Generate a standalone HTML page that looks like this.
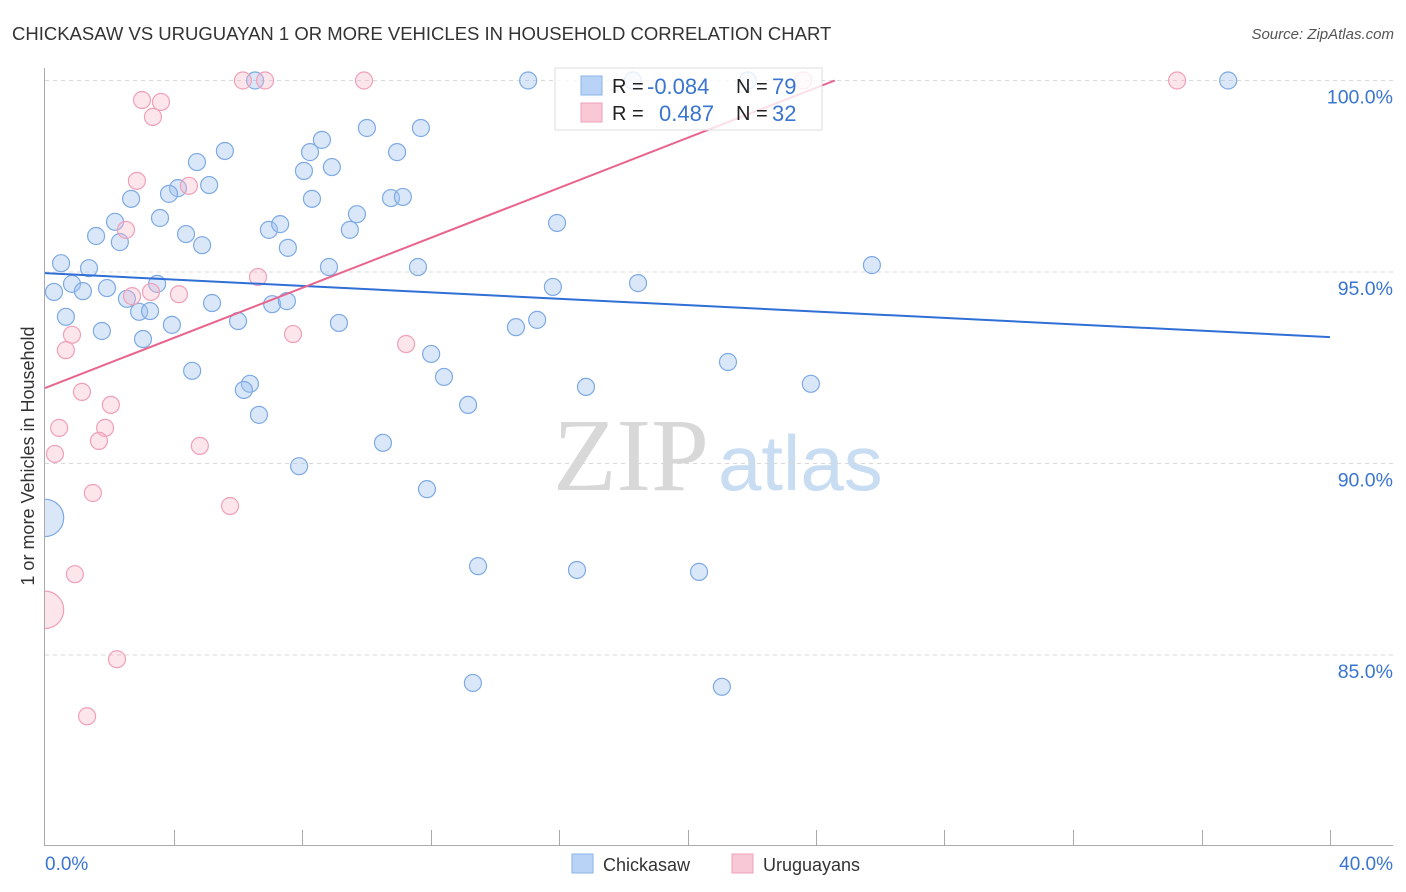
<!DOCTYPE html>
<html><head><meta charset="utf-8"><style>
body{margin:0;background:#fff;font-family:"Liberation Sans",sans-serif;}
#wrap{position:relative;width:1406px;height:892px;overflow:hidden;}
</style></head><body>
<div id="wrap">
<svg id="svg" width="1406" height="892" xmlns="http://www.w3.org/2000/svg">
<text x="12" y="40" font-size="18.5" fill="#333">CHICKASAW VS URUGUAYAN 1 OR MORE VEHICLES IN HOUSEHOLD CORRELATION CHART</text>
<text x="1394" y="39" font-size="15" fill="#555" font-style="italic" text-anchor="end">Source: ZipAtlas.com</text>
<text transform="translate(34,456) rotate(-90)" font-size="18" fill="#333" text-anchor="middle">1 or more Vehicles in Household</text>
<g>
<text x="553" y="490" font-size="104" font-family="Liberation Serif,serif" fill="#d8d8d8">ZIP</text>
<text x="718" y="490" font-size="78" fill="#c8dcf2">atlas</text>
</g>
<g id="grid"></g>
<g id="axes"></g>
<defs><clipPath id="plotclip"><rect x="45" y="60" width="1360" height="785"/></clipPath></defs>
<g id="pts" clip-path="url(#plotclip)"></g>
<g id="lines"></g>
<g>
<rect x="555" y="68" width="267" height="62" fill="rgba(255,255,255,0.8)" stroke="#ddd"/>
<rect x="581" y="76" width="21" height="19" fill="#b8d3f5" stroke="#8ab4e8"/>
<text x="612" y="93" font-size="20" fill="#222">R =</text>
<text x="647" y="94" font-size="22" fill="#3a75d0">-0.084</text>
<text x="736" y="93" font-size="20" fill="#222">N =</text>
<text x="772" y="94" font-size="22" fill="#3a75d0">79</text>
<rect x="581" y="103" width="21" height="19" fill="#f9c8d6" stroke="#f0a0b8"/>
<text x="612" y="120" font-size="20" fill="#222">R =</text>
<text x="659" y="121" font-size="22" fill="#3a75d0">0.487</text>
<text x="736" y="120" font-size="20" fill="#222">N =</text>
<text x="772" y="121" font-size="22" fill="#3a75d0">32</text>
</g>
<g>
<rect x="572" y="854" width="21" height="19" fill="#b8d3f5" stroke="#8ab4e8"/>
<text x="603" y="871" font-size="18" fill="#333">Chickasaw</text>
<rect x="732" y="854" width="21" height="19" fill="#f9c8d6" stroke="#f0a0b8"/>
<text x="763" y="871" font-size="18" fill="#333">Uruguayans</text>
</g>
</svg>
</div>
<script>
const yTicks=[100,95,90,85];
const yTickLabels=["100.0%","95.0%","90.0%","85.0%"];
const xLabels=["0.0%","40.0%"];
const blueX=[15.04,18.30,21.88,36.83,6.54,8.62,10.02,11.70,5.60,4.73,8.25,10.96,8.93,8.06,4.14,5.11,3.86,10.77,11.14,8.31,2.68,2.18,3.58,4.39,4.89,1.59,2.33,6.97,7.32,7.56,9.71,9.49,15.94,0.50,1.37,8.84,11.61,25.74,0.84,0.28,1.18,1.93,3.49,15.81,18.46,2.55,5.20,7.07,7.53,2.93,3.27,0.65,3.95,6.01,9.15,14.66,15.32,1.77,3.05,12.02,4.58,12.42,21.26,6.38,6.19,16.84,23.84,13.17,6.66,10.52,7.91,11.89,13.48,16.56,20.36,13.32,21.07,0];
const blueY=[100,100,100,100,100,98.45,98.76,98.76,98.16,97.87,98.13,98.13,97.74,97.64,97.19,97.27,97.04,96.93,96.96,96.91,96.91,96.31,96.41,95.99,95.70,95.94,95.78,96.10,96.25,95.63,96.51,96.10,96.28,95.23,95.10,95.13,95.13,95.18,94.69,94.48,94.50,94.58,94.69,94.61,94.71,94.30,94.19,94.16,94.24,93.96,93.98,93.83,93.62,93.72,93.67,93.56,93.75,93.46,93.25,92.86,92.42,92.26,92.65,92.08,91.92,92.00,92.08,91.53,91.27,90.54,89.93,89.33,87.32,87.22,87.17,84.27,84.17,88.58];
const blueSize=[1,1,1,1,1,1,1,1,1,1,1,1,1,1,1,1,1,1,1,1,1,1,1,1,1,1,1,1,1,1,1,1,1,1,1,1,1,1,1,1,1,1,1,1,1,1,1,1,1,1,1,1,1,1,1,1,1,1,1,1,1,1,1,1,1,1,1,1,1,1,1,1,1,1,1,1,1,2.2];
const pinkX=[6.16,6.85,9.93,23.60,35.24,3.02,3.61,3.36,2.86,4.48,2.52,6.63,2.71,3.30,4.17,0.84,0.65,7.72,11.24,1.15,2.05,0.44,1.87,1.68,0.31,4.82,1.49,5.76,0.93,2.24,1.31,0];
const pinkY=[100,100,100,100,100,99.49,99.44,99.05,97.38,97.25,96.10,94.87,94.37,94.48,94.42,93.36,92.96,93.38,93.12,91.87,91.53,90.93,90.93,90.59,90.25,90.46,89.23,88.89,87.11,84.89,83.40,86.18];
const pinkSize=[1,1,1,1,1,1,1,1,1,1,1,1,1,1,1,1,1,1,1,1,1,1,1,1,1,1,1,1,1,1,1,2.2];
const blueTrend=[94.97,93.30];
const pinkTrend=[91.97,0.3266];
const NS="http://www.w3.org/2000/svg";
const X0=45,X1=1330,Y100=80.5,PXPER=38.3;
function sx(v){return X0+(v/40)*(X1-X0);}
function sy(v){return Y100+(100-v)*PXPER;}
function mk(t,a,p){const e=document.createElementNS(NS,t);for(const k in a)e.setAttribute(k,a[k]);p.appendChild(e);return e;}
const grid=document.getElementById('grid'),axes=document.getElementById('axes'),pts=document.getElementById('pts'),lines=document.getElementById('lines');
yTicks.forEach((t,i)=>{
 const l=mk('line',{x1:45,x2:1393,y1:sy(t),y2:sy(t),stroke:'#d8d8d8','stroke-dasharray':'4,4'},grid);
 
 
 const tx=mk('text',{x:1393,y:sy(t)+23,'font-size':19.5,fill:'#3a75d0','text-anchor':'end'},grid);
 tx.textContent=yTickLabels[i];
 
 
});
let a=mk('line',{x1:44.5,x2:44.5,y1:68,y2:845,stroke:'#aaa'},axes);


a=mk('line',{x1:44,x2:1393,y1:845.5,y2:845.5,stroke:'#aaa'},axes);


for(let i=1;i<=10;i++){
 const x=Math.round(sx(i*4))+0.5;
 const t=mk('line',{x1:x,x2:x,y1:830,y2:845,stroke:'#aaa'},axes);
 
 
}
let xl=mk('text',{x:45,y:870,'font-size':19,fill:'#3a75d0'},axes);xl.textContent=xLabels[0];


xl=mk('text',{x:1393,y:870,'font-size':19,fill:'#3a75d0','text-anchor':'end'},axes);xl.textContent=xLabels[1];


function drawPts(xs,ys,ss,fill,stroke,name){
 xs.forEach((v,i)=>{
  const c=mk('circle',{cx:sx(v),cy:sy(ys[i]),r:8.5*ss[i],fill:fill,stroke:stroke,'stroke-width':1.2},pts);
  
  
 });
}
drawPts(blueX,blueY,blueSize,'rgba(160,196,240,0.4)','#7eaae4','point-chickasaw');
drawPts(pinkX,pinkY,pinkSize,'rgba(248,180,200,0.35)','#f0a0b8','point-uruguayans');
let bl=mk('line',{x1:sx(0),y1:sy(blueTrend[0]),x2:sx(40),y2:sy(blueTrend[1]),stroke:'#2f6fd6','stroke-width':2},lines);


const pEnd=(100-pinkTrend[0])/pinkTrend[1];
let pl=mk('line',{x1:sx(0),y1:sy(pinkTrend[0]),x2:sx(pEnd),y2:sy(100),stroke:'#e8648c','stroke-width':2},lines);


</script>
</body></html>
